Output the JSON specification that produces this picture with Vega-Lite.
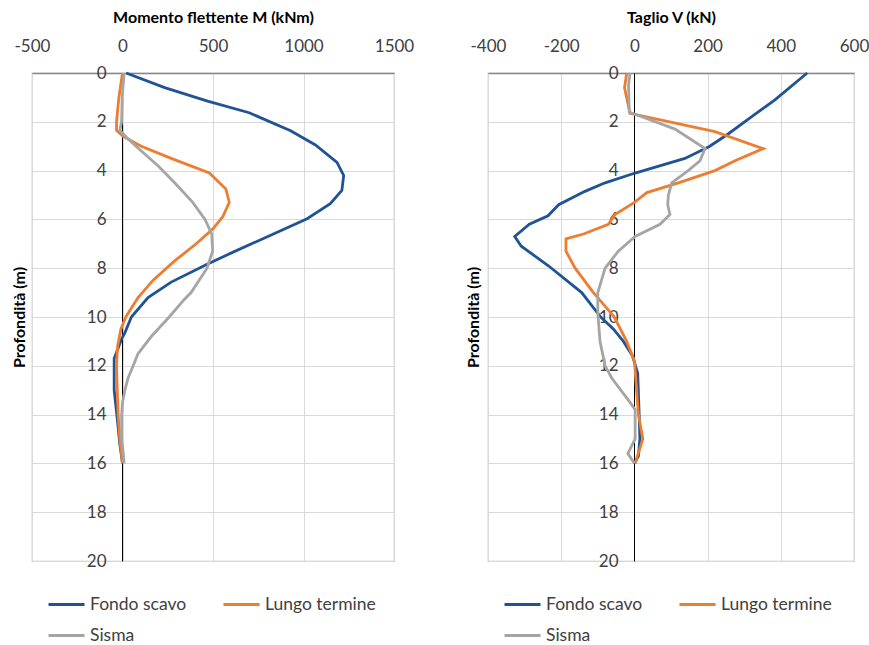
{
  "$schema": "https://vega.github.io/schema/vega-lite/v6.json",
  "padding": {"left": 10, "top": 8, "right": 5, "bottom": 0},
  "spacing": 94,
  "bounds": "flush",
  "background": "white",
  "config": {
    "font": "Lato",
    "view": {"stroke": "#BFBFBF", "strokeWidth": 1.2},
    "axis": {
      "gridColor": "#D9D9D9",
      "gridWidth": 1,
      "labelFont": "Lato",
      "labelFontSize": 17,
      "labelColor": "#404040",
      "labelExpr": "datum.value + ''",
      "titleFont": "Lato",
      "titleFontSize": 16,
      "titleFontWeight": "bold",
      "titleColor": "#000000",
      "ticks": false,
      "tickSize": 0
    },
    "legend": {
      "labelFont": "Lato",
      "labelFontSize": 17.5,
      "labelColor": "#404040",
      "symbolType": "stroke",
      "symbolSize": 1296,
      "symbolStrokeWidth": 3,
      "labelOffset": 4,
      "columnPadding": 30,
      "rowPadding": 3
    }
  },
  "datasets": {
    "momento": [
      {"serie": "Fondo scavo", "d": 0, "v": 20},
      {"serie": "Fondo scavo", "d": 0.6, "v": 233},
      {"serie": "Fondo scavo", "d": 1.15, "v": 470},
      {"serie": "Fondo scavo", "d": 1.63, "v": 700},
      {"serie": "Fondo scavo", "d": 2.37, "v": 929},
      {"serie": "Fondo scavo", "d": 2.95, "v": 1066},
      {"serie": "Fondo scavo", "d": 3.66, "v": 1185},
      {"serie": "Fondo scavo", "d": 4.2, "v": 1222},
      {"serie": "Fondo scavo", "d": 4.81, "v": 1212},
      {"serie": "Fondo scavo", "d": 5.36, "v": 1148},
      {"serie": "Fondo scavo", "d": 5.97, "v": 1020},
      {"serie": "Fondo scavo", "d": 6.71, "v": 800},
      {"serie": "Fondo scavo", "d": 7.32, "v": 617},
      {"serie": "Fondo scavo", "d": 7.86, "v": 462},
      {"serie": "Fondo scavo", "d": 8.57, "v": 269},
      {"serie": "Fondo scavo", "d": 9.2, "v": 141},
      {"serie": "Fondo scavo", "d": 10, "v": 49},
      {"serie": "Fondo scavo", "d": 10.65, "v": 13},
      {"serie": "Fondo scavo", "d": 10.9, "v": -5},
      {"serie": "Fondo scavo", "d": 11.7, "v": -46},
      {"serie": "Fondo scavo", "d": 13, "v": -46},
      {"serie": "Fondo scavo", "d": 14.3, "v": -27},
      {"serie": "Fondo scavo", "d": 15.2, "v": -15},
      {"serie": "Fondo scavo", "d": 16, "v": 0},
      {"serie": "Lungo termine", "d": 0, "v": 0},
      {"serie": "Lungo termine", "d": 1, "v": -20},
      {"serie": "Lungo termine", "d": 2, "v": -33},
      {"serie": "Lungo termine", "d": 2.35, "v": -33},
      {"serie": "Lungo termine", "d": 2.6, "v": 4},
      {"serie": "Lungo termine", "d": 3, "v": 104},
      {"serie": "Lungo termine", "d": 3.5, "v": 269},
      {"serie": "Lungo termine", "d": 4.1, "v": 480},
      {"serie": "Lungo termine", "d": 4.75, "v": 571},
      {"serie": "Lungo termine", "d": 5.3, "v": 590},
      {"serie": "Lungo termine", "d": 5.9, "v": 553},
      {"serie": "Lungo termine", "d": 6.4, "v": 498},
      {"serie": "Lungo termine", "d": 7, "v": 407},
      {"serie": "Lungo termine", "d": 7.7, "v": 288},
      {"serie": "Lungo termine", "d": 8.5, "v": 168},
      {"serie": "Lungo termine", "d": 9.2, "v": 86},
      {"serie": "Lungo termine", "d": 10, "v": 18},
      {"serie": "Lungo termine", "d": 10.5, "v": -9},
      {"serie": "Lungo termine", "d": 11.2, "v": -27},
      {"serie": "Lungo termine", "d": 12, "v": -33},
      {"serie": "Lungo termine", "d": 13, "v": -29},
      {"serie": "Lungo termine", "d": 14, "v": -24},
      {"serie": "Lungo termine", "d": 15, "v": -15},
      {"serie": "Lungo termine", "d": 16, "v": 0},
      {"serie": "Sisma", "d": 0, "v": 9},
      {"serie": "Sisma", "d": 1, "v": -2},
      {"serie": "Sisma", "d": 2, "v": -5},
      {"serie": "Sisma", "d": 2.35, "v": -15},
      {"serie": "Sisma", "d": 2.7, "v": 31},
      {"serie": "Sisma", "d": 3.2, "v": 104},
      {"serie": "Sisma", "d": 3.8, "v": 196},
      {"serie": "Sisma", "d": 4.5, "v": 288},
      {"serie": "Sisma", "d": 5.3, "v": 388},
      {"serie": "Sisma", "d": 6, "v": 456},
      {"serie": "Sisma", "d": 6.6, "v": 493},
      {"serie": "Sisma", "d": 7.3, "v": 498},
      {"serie": "Sisma", "d": 8, "v": 467},
      {"serie": "Sisma", "d": 9, "v": 379},
      {"serie": "Sisma", "d": 9.3, "v": 339},
      {"serie": "Sisma", "d": 10, "v": 258},
      {"serie": "Sisma", "d": 10.8, "v": 159},
      {"serie": "Sisma", "d": 11.5, "v": 86},
      {"serie": "Sisma", "d": 12, "v": 59},
      {"serie": "Sisma", "d": 12.5, "v": 31},
      {"serie": "Sisma", "d": 13, "v": 13},
      {"serie": "Sisma", "d": 13.5, "v": 0},
      {"serie": "Sisma", "d": 14, "v": -5},
      {"serie": "Sisma", "d": 15, "v": -5},
      {"serie": "Sisma", "d": 15.5, "v": 3},
      {"serie": "Sisma", "d": 16, "v": 9}
    ],
    "taglio": [
      {"serie": "Fondo scavo", "d": 0, "v": 472},
      {"serie": "Fondo scavo", "d": 1.1, "v": 384},
      {"serie": "Fondo scavo", "d": 1.7, "v": 329},
      {"serie": "Fondo scavo", "d": 2.5, "v": 256},
      {"serie": "Fondo scavo", "d": 3, "v": 206},
      {"serie": "Fondo scavo", "d": 3.5, "v": 138},
      {"serie": "Fondo scavo", "d": 4.1, "v": 2},
      {"serie": "Fondo scavo", "d": 4.5, "v": -80},
      {"serie": "Fondo scavo", "d": 4.85, "v": -135},
      {"serie": "Fondo scavo", "d": 5.4, "v": -207},
      {"serie": "Fondo scavo", "d": 5.85, "v": -236},
      {"serie": "Fondo scavo", "d": 6.2, "v": -287},
      {"serie": "Fondo scavo", "d": 6.7, "v": -327},
      {"serie": "Fondo scavo", "d": 7.1, "v": -309},
      {"serie": "Fondo scavo", "d": 7.9, "v": -235},
      {"serie": "Fondo scavo", "d": 9, "v": -144},
      {"serie": "Fondo scavo", "d": 10, "v": -92},
      {"serie": "Fondo scavo", "d": 10.5, "v": -57},
      {"serie": "Fondo scavo", "d": 11, "v": -30},
      {"serie": "Fondo scavo", "d": 11.6, "v": -5},
      {"serie": "Fondo scavo", "d": 12.3, "v": 9},
      {"serie": "Fondo scavo", "d": 14, "v": 13},
      {"serie": "Fondo scavo", "d": 15, "v": 15},
      {"serie": "Fondo scavo", "d": 15.7, "v": 11},
      {"serie": "Fondo scavo", "d": 16, "v": 0},
      {"serie": "Lungo termine", "d": 0, "v": -21},
      {"serie": "Lungo termine", "d": 0.6, "v": -27},
      {"serie": "Lungo termine", "d": 1.65, "v": -12},
      {"serie": "Lungo termine", "d": 2.4, "v": 220},
      {"serie": "Lungo termine", "d": 3.1, "v": 352},
      {"serie": "Lungo termine", "d": 3.6, "v": 275},
      {"serie": "Lungo termine", "d": 4, "v": 220},
      {"serie": "Lungo termine", "d": 4.5, "v": 120},
      {"serie": "Lungo termine", "d": 4.9, "v": 34},
      {"serie": "Lungo termine", "d": 5.3, "v": 0},
      {"serie": "Lungo termine", "d": 5.8, "v": -53},
      {"serie": "Lungo termine", "d": 6.2, "v": -71},
      {"serie": "Lungo termine", "d": 6.6, "v": -139},
      {"serie": "Lungo termine", "d": 6.8, "v": -187},
      {"serie": "Lungo termine", "d": 7.3, "v": -187},
      {"serie": "Lungo termine", "d": 8, "v": -162},
      {"serie": "Lungo termine", "d": 9, "v": -112},
      {"serie": "Lungo termine", "d": 9.4, "v": -89},
      {"serie": "Lungo termine", "d": 10, "v": -55},
      {"serie": "Lungo termine", "d": 11, "v": -21},
      {"serie": "Lungo termine", "d": 11.8, "v": 0},
      {"serie": "Lungo termine", "d": 13, "v": 6},
      {"serie": "Lungo termine", "d": 14, "v": 11},
      {"serie": "Lungo termine", "d": 15, "v": 23},
      {"serie": "Lungo termine", "d": 16, "v": 2},
      {"serie": "Sisma", "d": 0, "v": -12},
      {"serie": "Sisma", "d": 0.5, "v": -16},
      {"serie": "Sisma", "d": 1.6, "v": -14},
      {"serie": "Sisma", "d": 2.3, "v": 111},
      {"serie": "Sisma", "d": 3.1, "v": 193},
      {"serie": "Sisma", "d": 3.6, "v": 179},
      {"serie": "Sisma", "d": 4, "v": 147},
      {"serie": "Sisma", "d": 4.5, "v": 102},
      {"serie": "Sisma", "d": 5, "v": 93},
      {"serie": "Sisma", "d": 5.4, "v": 91},
      {"serie": "Sisma", "d": 5.8, "v": 97},
      {"serie": "Sisma", "d": 6.2, "v": 70},
      {"serie": "Sisma", "d": 6.7, "v": 2},
      {"serie": "Sisma", "d": 7.3, "v": -44},
      {"serie": "Sisma", "d": 8, "v": -80},
      {"serie": "Sisma", "d": 9, "v": -100},
      {"serie": "Sisma", "d": 9.8, "v": -100},
      {"serie": "Sisma", "d": 11, "v": -94},
      {"serie": "Sisma", "d": 12, "v": -80},
      {"serie": "Sisma", "d": 12.5, "v": -62},
      {"serie": "Sisma", "d": 13.5, "v": -12},
      {"serie": "Sisma", "d": 13.8, "v": 2},
      {"serie": "Sisma", "d": 15, "v": 2},
      {"serie": "Sisma", "d": 15.6, "v": -18},
      {"serie": "Sisma", "d": 16, "v": 0}
    ]
  },
  "hconcat": [
    {
      "data": {"name": "momento"},
      "width": 362,
      "height": 488,
      "mark": {"type": "line", "strokeWidth": 2.8},
      "encoding": {
        "x": {
          "field": "v",
          "type": "quantitative",
          "scale": {"domain": [-500, 1500], "nice": false, "zero": false},
          "axis": {
            "orient": "top",
            "title": "Momento flettente M (kNm)",
            "values": [-500, 0, 500, 1000, 1500],
            "labelPadding": 18,
            "titlePadding": 12,
            "domainColor": "#868686",
            "domainWidth": 1.5,
            "labelFlush": false
          }
        },
        "y": {
          "field": "d",
          "type": "quantitative",
          "scale": {"domain": [0, 20], "reverse": true, "nice": false, "zero": false},
          "axis": {
            "orient": "left",
            "title": "Profondità (m)",
            "values": [0, 2, 4, 6, 8, 10, 12, 14, 16, 18, 20],
            "offset": -90,
            "labelPadding": 16,
            "domainColor": "#000000",
            "domainWidth": 1,
            "titleX": -103,
            "titleBaseline": "middle",
            "labelFlush": false
          }
        },
        "color": {
          "field": "serie",
          "type": "nominal",
          "scale": {
            "domain": ["Fondo scavo", "Lungo termine", "Sisma"],
            "range": ["#1F5395", "#ED7D31", "#A5A5A5"]
          },
          "legend": {
            "title": null,
            "orient": "none",
            "direction": "horizontal",
            "columns": 2,
            "legendX": 15,
            "legendY": 512
          }
        },
        "order": {"field": "d", "type": "quantitative"}
      }
    },
    {
      "data": {"name": "taglio"},
      "width": 366,
      "height": 488,
      "mark": {"type": "line", "strokeWidth": 2.8},
      "encoding": {
        "x": {
          "field": "v",
          "type": "quantitative",
          "scale": {"domain": [-400, 600], "nice": false, "zero": false},
          "axis": {
            "orient": "top",
            "title": "Taglio V (kN)",
            "values": [-400, -200, 0, 200, 400, 600],
            "labelPadding": 18,
            "titlePadding": 12,
            "domainColor": "#868686",
            "domainWidth": 1.5,
            "labelFlush": false
          }
        },
        "y": {
          "field": "d",
          "type": "quantitative",
          "scale": {"domain": [0, 20], "reverse": true, "nice": false, "zero": false},
          "axis": {
            "orient": "left",
            "title": "Profondità (m)",
            "values": [0, 2, 4, 6, 8, 10, 12, 14, 16, 18, 20],
            "offset": -146,
            "labelPadding": 16,
            "domainColor": "#000000",
            "domainWidth": 1,
            "titleX": -161,
            "titleBaseline": "middle",
            "labelFlush": false
          }
        },
        "color": {
          "field": "serie",
          "type": "nominal",
          "scale": {
            "domain": ["Fondo scavo", "Lungo termine", "Sisma"],
            "range": ["#1F5395", "#ED7D31", "#A5A5A5"]
          },
          "legend": {
            "title": null,
            "orient": "none",
            "direction": "horizontal",
            "columns": 2,
            "legendX": 15,
            "legendY": 512
          }
        },
        "order": {"field": "d", "type": "quantitative"}
      }
    }
  ],
  "resolve": {"legend": {"color": "independent"}}
}
